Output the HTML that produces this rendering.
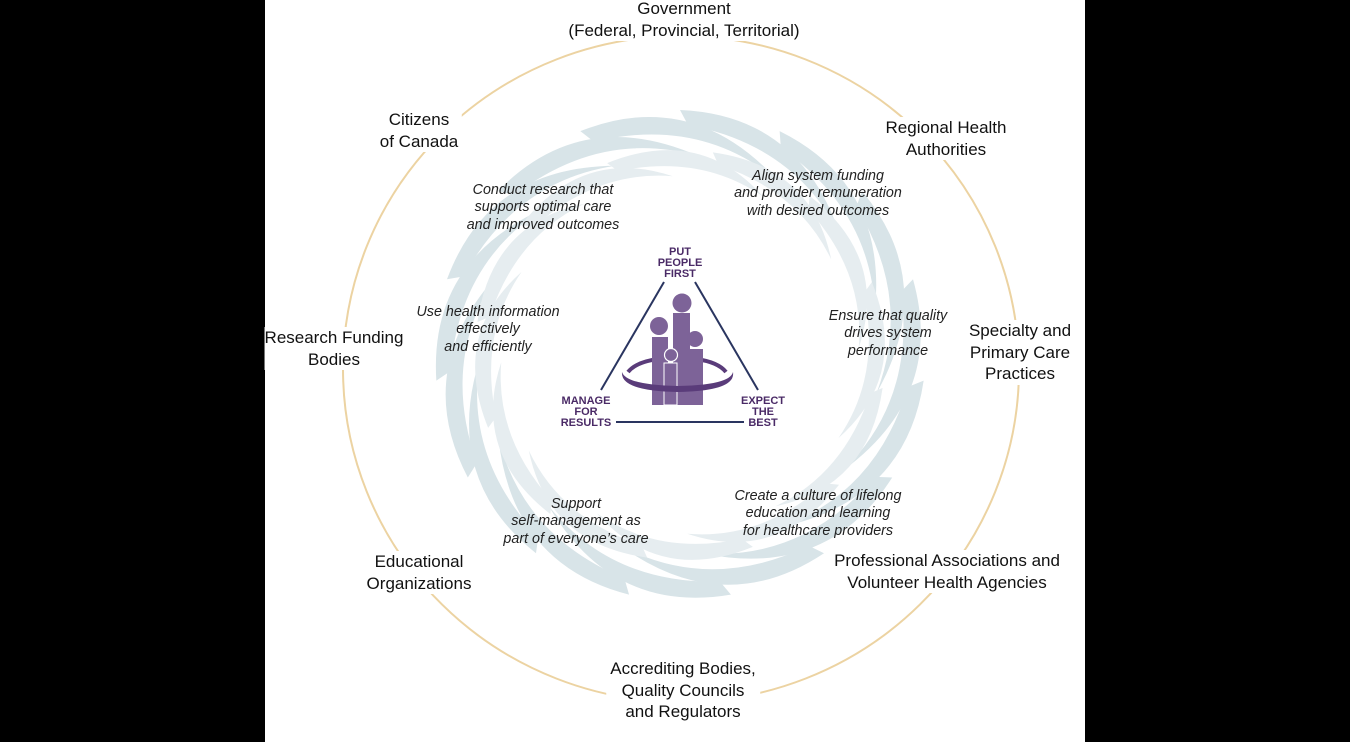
<!DOCTYPE html>
<html><head><meta charset="utf-8"><style>
body{margin:0;background:#000;width:1350px;height:742px;overflow:hidden;position:relative;font-family:"Liberation Sans","DejaVu Sans",sans-serif}
#panel{position:absolute;left:265px;top:0;width:820px;height:742px;background:#fff}
.l{position:absolute;text-align:center;font-size:17px;line-height:21.5px;color:#111;background:#fff;padding:0 4px;transform:translateX(-50%);white-space:nowrap}
.i{position:absolute;text-align:center;font-size:14.3px;line-height:17.3px;font-style:italic;color:#222;transform:translateX(-50%);white-space:nowrap}
.p{position:absolute;text-align:center;font-size:11px;line-height:11px;font-weight:bold;color:#4a2a66;transform:translateX(-50%);white-space:nowrap}
</style></head><body>
<div id="panel"></div>
<svg width="1350" height="742" style="position:absolute;left:0;top:0">
<ellipse cx="681" cy="369" rx="338" ry="333" fill="none" stroke="#ecd3a2" stroke-width="2"/>
<defs>
<path id="b1" d="M0 -245 Q120 -240 160 -120 Q115 -210 8 -230 Z" fill="#d8e4e8"/>
<path id="b2" d="M-10 -205 Q90 -212 128 -125 Q82 -185 -2 -194 Z" fill="#e6edf0"/>
</defs>
<g transform="translate(680 355)">
<use href="#b1"/><use href="#b1" transform="rotate(24)"/><use href="#b1" transform="rotate(48)"/><use href="#b1" transform="rotate(72)"/><use href="#b1" transform="rotate(96)"/><use href="#b1" transform="rotate(120)"/><use href="#b1" transform="rotate(144)"/><use href="#b1" transform="rotate(168)"/><use href="#b1" transform="rotate(192)"/><use href="#b1" transform="rotate(216)"/><use href="#b1" transform="rotate(240)"/><use href="#b1" transform="rotate(264)"/><use href="#b1" transform="rotate(288)"/><use href="#b1" transform="rotate(312)"/><use href="#b1" transform="rotate(336)"/>
<use href="#b2" transform="rotate(12)"/><use href="#b2" transform="rotate(42)"/><use href="#b2" transform="rotate(72)"/><use href="#b2" transform="rotate(102)"/><use href="#b2" transform="rotate(132)"/><use href="#b2" transform="rotate(162)"/><use href="#b2" transform="rotate(192)"/><use href="#b2" transform="rotate(222)"/><use href="#b2" transform="rotate(252)"/><use href="#b2" transform="rotate(282)"/><use href="#b2" transform="rotate(312)"/><use href="#b2" transform="rotate(342)"/>
</g>
<line x1="664" y1="282" x2="601" y2="390" stroke="#2a3560" stroke-width="2"/>
<line x1="695" y1="282" x2="758" y2="390" stroke="#2a3560" stroke-width="2"/>
<line x1="616" y1="422" x2="744" y2="422" stroke="#2a3560" stroke-width="2"/>
<path d="M628 372 Q636 362 658 359" fill="none" stroke="#5a3c7a" stroke-width="4"/>
<path d="M726 372 Q718 362 696 359" fill="none" stroke="#5a3c7a" stroke-width="4"/>
<rect x="652" y="337" width="16" height="68" fill="#7d6398"/>
<circle cx="659" cy="326" r="9" fill="#7d6398"/>
<rect x="673" y="313" width="17" height="92" fill="#7d6398"/>
<circle cx="682" cy="303" r="9.5" fill="#7d6398"/>
<rect x="689" y="349" width="14" height="56" fill="#7d6398"/>
<circle cx="695" cy="339" r="8" fill="#7d6398"/>
<rect x="664" y="363" width="13" height="42" fill="#7d6398" stroke="#fff" stroke-width="1"/>
<circle cx="671" cy="355" r="6.5" fill="#7d6398" stroke="#fff" stroke-width="1.2"/>
<path d="M622 372 Q620 391 678 392 Q736 391 733 372 Q730 385 678 386 Q626 385 622 372 Z" fill="#5a3c7a"/>
</svg>
<div class="p" style="left:680px;top:247px">PUT<br>PEOPLE<br>FIRST</div>
<div class="p" style="left:586px;top:396px">MANAGE<br>FOR<br>RESULTS</div>
<div class="p" style="left:763px;top:396px">EXPECT<br>THE<br>BEST</div>

<div class="l" style="left:684px;top:-2px">Government<br>(Federal, Provincial, Territorial)</div>
<div class="l" style="left:419px;top:109px">Citizens<br>of Canada</div>
<div class="l" style="left:946px;top:117px">Regional Health<br>Authorities</div>
<div class="l" style="left:334px;top:327px;padding:0">Research Funding<br>Bodies</div>
<div class="l" style="left:1020px;top:320px">Specialty and<br>Primary Care<br>Practices</div>
<div class="l" style="left:419px;top:551px">Educational<br>Organizations</div>
<div class="l" style="left:947px;top:550px">Professional Associations and<br>Volunteer Health Agencies</div>
<div class="l" style="left:683px;top:658px">Accrediting Bodies,<br>Quality Councils<br>and Regulators</div>

<div class="i" style="left:543px;top:182px">Conduct research that<br>supports optimal care<br>and improved outcomes</div>
<div class="i" style="left:818px;top:168px">Align system funding<br>and provider remuneration<br>with desired outcomes</div>
<div class="i" style="left:488px;top:304px">Use health information<br>effectively<br>and efficiently</div>
<div class="i" style="left:888px;top:308px">Ensure that quality<br>drives system<br>performance</div>
<div class="i" style="left:576px;top:496px">Support<br>self-management as<br>part of everyone’s care</div>
<div class="i" style="left:818px;top:488px">Create a culture of lifelong<br>education and learning<br>for healthcare providers</div>
</body></html>
